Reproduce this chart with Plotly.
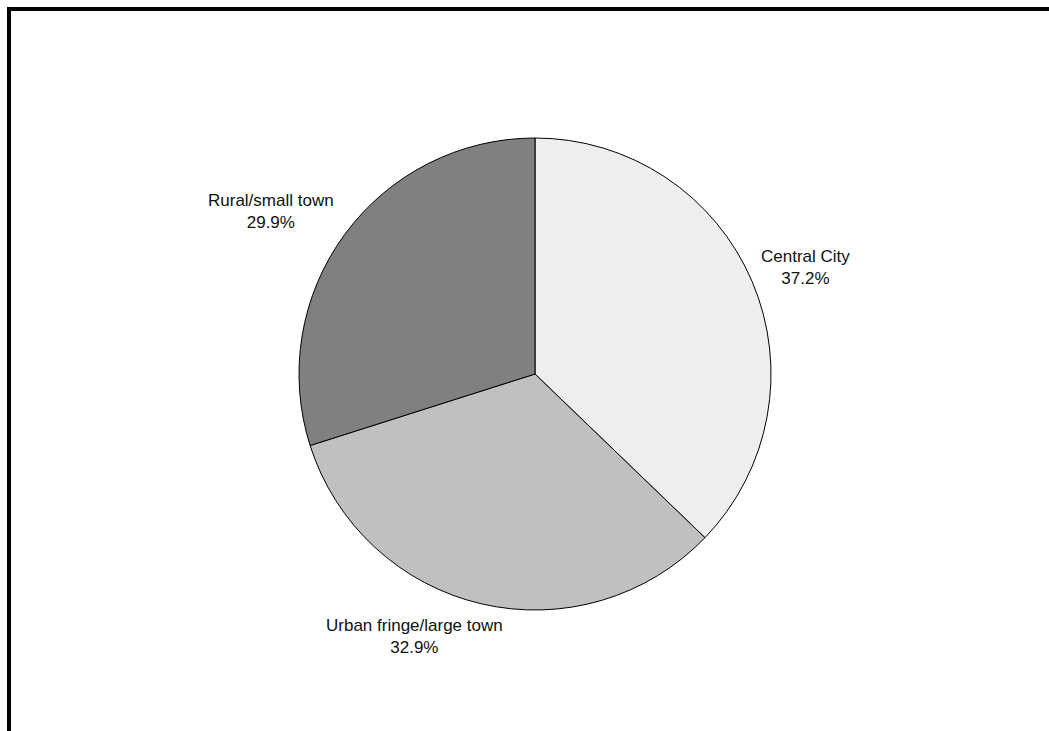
import plotly.graph_objects as go

# Share of schools by locale
categories = ["Central City", "Urban fringe/large town", "Rural/small town"]
shares = [37.2, 32.9, 29.9]
slice_colors = ["#eeeeee", "#c0c0c0", "#808080"]

# Label centre points (paper coordinates) for the outside labels
label_pos = [(0.7674, 0.6334), (0.3947, 0.1293), (0.2588, 0.7107)]

W, H = 1049, 731
cx, cy, r = 535, 374, 236

fig = go.Figure(go.Pie(
    labels=categories,
    values=shares,
    sort=False,
    direction="clockwise",
    rotation=0,
    marker=dict(colors=slice_colors, line=dict(color="#000000", width=1)),
    textinfo="none",
    hoverinfo="label+percent",
    showlegend=False,
    domain=dict(x=[(cx - r) / W, (cx + r) / W], y=[1 - (cy + r) / H, 1 - (cy - r) / H]),
))

for name, val, (px, py) in zip(categories, shares, label_pos):
    fig.add_annotation(
        x=px, y=py, xref="paper", yref="paper",
        xanchor="center", yanchor="middle",
        text=f"{name}<br>{val:.1f}%",
        showarrow=False, align="center",
        font=dict(family="Liberation Sans, Arial, sans-serif", size=17, color="#111111"),
    )

# Frame around the chart area
fig.add_shape(type="rect", xref="paper", yref="paper",
              x0=9 / W, y0=-0.02, x1=1.02, y1=1 - 9 / H,
              line=dict(color="#000000", width=4), fillcolor="rgba(0,0,0,0)")

fig.update_layout(
    width=W, height=H,
    margin=dict(l=0, r=0, t=0, b=0),
    paper_bgcolor="#ffffff", plot_bgcolor="#ffffff",
)

fig.write_html("out.html")
